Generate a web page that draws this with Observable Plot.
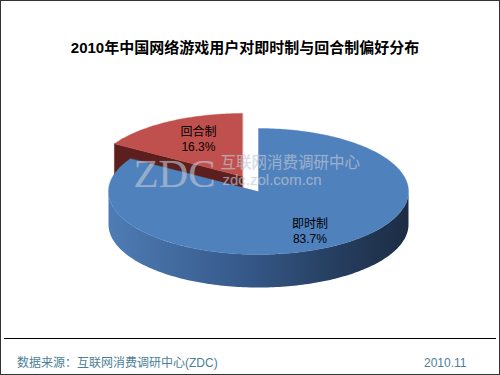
<!DOCTYPE html>
<html>
<head>
<meta charset="utf-8">
<script src="https://cdn.jsdelivr.net/npm/d3@7"></script>
<script src="https://cdn.jsdelivr.net/npm/@observablehq/plot@0.6"></script>
<style>
  html, body { margin: 0; padding: 0; background: #fff; }
  #frame {
    position: relative; width: 500px; height: 375px; box-sizing: border-box;
    border: 1px solid #333; background: #fff; overflow: hidden;
    font-family: "Liberation Sans", Arial, "Noto Sans CJK SC", sans-serif;
  }
  #title {
    position: absolute; left: 0; width: 488px; top: 37px; line-height: 20px;
    text-align: center; font-size: 15px; font-weight: bold; color: #000;
    font-family: "Liberation Sans", Arial, "Noto Sans CJK SC", sans-serif;
  }
  #chart { position: absolute; left: 0; top: 69px; }
  #rule { position: absolute; left: 3px; width: 492px; top: 337px; height: 1px; background: #000; }
  .foot { position: absolute; top: 353px; line-height: 18px; font-size: 12px; color: #4b7f96; }
</style>
</head>
<body>
<div id="frame">
  <div id="title">2010年中国网络游戏用户对即时制与回合制偏好分布</div>
  <div id="chart"></div>
  <div id="rule"></div>
  <div class="foot" style="left:16px">数据来源：互联网消费调研中心(ZDC)</div>
  <div class="foot" style="left:423px">2010.11</div>
</div>
<script>
// ---- data ----
const categories = ["即时制", "回合制"];
const values = [83.7, 16.3];
const topColors = ["#4f81bd", "#c0504d"];
const sideColors = ["url(#wallGrad)", "#5b1f1d"];
const watermarkTexts = ["ZDC", "互联网消费调研中心", "zdc.zol.com.cn"];

// ---- layout (page coordinates) ----
const cx = 258, cy = 191, rx = 150, ry = 63, depth = 33;
const explode = [[0, 0], [-16, -15]];
const labelRadius = [0.7, 0.6];

const total = d3.sum(values);
let acc = 0;
const slices = values.map((v, i) => {
  const a0 = acc / total * 2 * Math.PI;
  acc += v;
  const a1 = acc / total * 2 * Math.PI;
  return {i, name: categories[i], value: v, a0, a1, ox: cx + explode[i][0], oy: cy + explode[i][1]};
});

const P = (s, a, dy = 0) => ({x: s.ox + rx * Math.sin(a), y: s.oy - ry * Math.cos(a) + dy});
function arcPts(s, from, to, dy = 0) {
  const n = Math.max(2, Math.ceil(Math.abs(to - from) / 0.02));
  return d3.range(n + 1).map(k => P(s, from + (to - from) * k / n, dy));
}

const blue = slices[0], red = slices[1];
// red cut wall at its start angle (faces front-left)
const redWall = [
  {x: red.ox, y: red.oy}, P(red, red.a0), P(red, red.a0, depth), {x: red.ox, y: red.oy + depth}
];
const redTop = [{x: red.ox, y: red.oy}, ...arcPts(red, red.a0, red.a1)];
// blue front outer wall between 90° and 270°
const wFrom = Math.max(blue.a0, Math.PI / 2), wTo = Math.min(blue.a1, 3 * Math.PI / 2);
const blueWall = [...arcPts(blue, wFrom, wTo), ...arcPts(blue, wTo, wFrom, depth)];
const blueTop = [{x: blue.ox, y: blue.oy}, ...arcPts(blue, blue.a0, blue.a1)];

const labels = slices.map(s => {
  const m = (s.a0 + s.a1) / 2;
  const f = labelRadius[s.i];
  return {x: s.ox + rx * f * Math.sin(m), y: s.oy - ry * 0.7 * Math.cos(m) + 1, text: `${s.name}\n${s.value}%`};
});

const wm = [
  {x: 133, y: 173, t: watermarkTexts[0], size: 41, font: "'Liberation Serif', 'DejaVu Serif', serif"},
  {x: 220, y: 163, t: watermarkTexts[1], size: 15.5, font: "'Noto Sans CJK SC', sans-serif"},
  {x: 222, y: 180, t: watermarkTexts[2], size: 15, font: "'Liberation Sans', Arial, sans-serif"}
];

const defs = () => {
  const d = d3.create("svg:defs");
  const g = d.append("linearGradient").attr("id", "wallGrad")
    .attr("x1", 0).attr("x2", 1).attr("y1", 0).attr("y2", 0);
  [[0, "#4e7cb4"], [0.45, "#36598a"], [0.75, "#263f60"], [1, "#1c2c44"]]
    .forEach(([o, c]) => g.append("stop").attr("offset", o).attr("stop-color", c));
  return d.node();
};

const poly = (pts, fill) => Plot.line(pts, {x: "x", y: "y", fill, stroke: fill, strokeWidth: 0.4, curve: "linear-closed"});

const chart = Plot.plot({
  width: 498, height: 260,
  margin: 0,
  x: {domain: [1, 499], range: [0, 498], axis: null},
  y: {domain: [70, 330], range: [0, 260], axis: null},
  style: {background: "transparent", overflow: "visible"},
  marks: [
    defs,
    poly(redWall, sideColors[1]),
    poly(redTop, topColors[1]),
    Plot.line(blueWall, {x: "x", y: "y", fill: sideColors[0], stroke: "none", curve: "linear-closed"}),
    poly(blueTop, topColors[0]),
    ...wm.map(w => Plot.text([w], {
      x: "x", y: "y", text: "t", textAnchor: "start", fontSize: w.size, fontFamily: w.font,
      fill: "#c4ccd8", fillOpacity: 0.6, stroke: "#aab4c4", strokeOpacity: 0.25, strokeWidth: 0.6
    })),
    Plot.text(labels, {
      x: "x", y: "y", text: "text", fontSize: 12, lineHeight: 1.25, fill: "#000",
      fontFamily: "'Liberation Sans', Arial, 'Noto Sans CJK SC', sans-serif"
    })
  ]
});
document.getElementById("chart").appendChild(chart);
</script>
</body>
</html>
